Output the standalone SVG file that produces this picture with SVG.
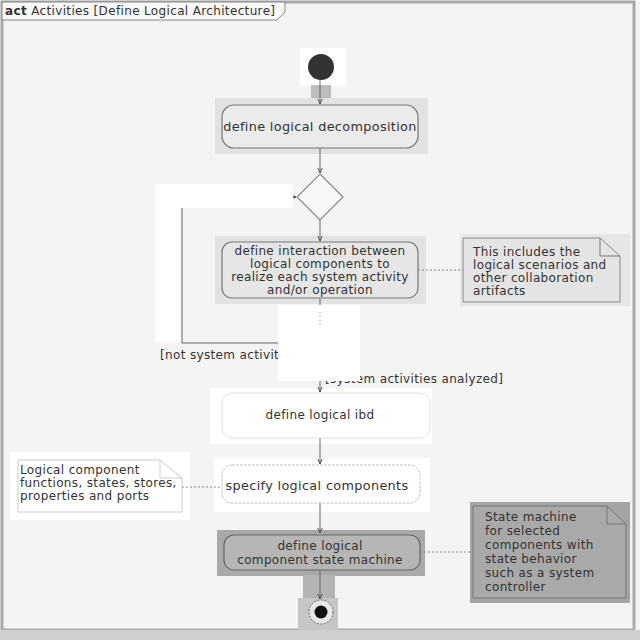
<svg xmlns="http://www.w3.org/2000/svg" width="640" height="640" viewBox="0 0 640 640">
  <style>
    text { font-family: "DejaVu Sans", "Liberation Sans", sans-serif; font-size: 12px; letter-spacing: 0.35px; fill: #333; }
    .big { font-size: 12.8px; letter-spacing: 0.35px; }
    .edge { fill: none; stroke: #666; stroke-width: 1; }
    .anchor { fill: none; stroke: #888; stroke-width: 1; stroke-dasharray: 2 2; }
    .mid { text-anchor: middle; }
  </style>
  <defs>
    <marker id="arrow" viewBox="0 0 8 8" refX="7" refY="4" markerWidth="6" markerHeight="6" orient="auto">
      <path d="M0,1 L7,4 L0,7" fill="none" stroke="#444" stroke-width="1.2"/>
    </marker>
    <clipPath id="guard-clip">
      <rect x="150" y="340" width="128" height="30"/>
    </clipPath>
  </defs>

  <!-- diagram frame -->
  <rect x="0" y="0" width="640" height="640" fill="#f4f4f4"/>
  <rect x="2" y="2" width="632" height="628" fill="none" stroke="#aaa" stroke-width="3"/>
  <rect x="0" y="630" width="640" height="10" fill="#cfcfcf"/>
  <g id="frame-label">
    <path d="M2,2 H285 V12 L277,20 H2 Z" fill="#f8f8f8" stroke="#888" stroke-width="1"/>
    <text x="5" y="15"><tspan font-weight="bold">act</tspan> Activities [Define Logical Architecture]</text>
  </g>

  <!-- highlight backdrops -->
  <rect x="300" y="48" width="46" height="38" fill="#ffffff"/>
  <rect x="311" y="85" width="20" height="20" fill="#bcbcbc"/>
  <rect x="215" y="98" width="213" height="56" fill="#e2e2e2"/>
  <rect x="215" y="236" width="211" height="68" fill="#e2e2e2"/>
  <rect x="460" y="234" width="170" height="72" fill="#e6e6e6"/>
  <rect x="210" y="388" width="222" height="56" fill="#ffffff"/>
  <rect x="214" y="458" width="216" height="54" fill="#ffffff"/>
  <rect x="10" y="452" width="180" height="68" fill="#ffffff"/>
  <rect x="217" y="530" width="208" height="46" fill="#a9a9a9"/>
  <rect x="303" y="575" width="32" height="24" fill="#b4b4b4"/>
  <rect x="298" y="598" width="40" height="32" fill="#c6c6c6"/>
  <rect x="470" y="502" width="160" height="101" fill="#a4a4a4"/>

  <!-- connectors -->
  <g id="connectors">
    <line class="edge" x1="320" y1="80" x2="320" y2="104" marker-end="url(#arrow)"/>
    <line class="edge" x1="320" y1="148" x2="320" y2="173" marker-end="url(#arrow)"/>
    <line class="edge" x1="320" y1="220" x2="320" y2="241" marker-end="url(#arrow)"/>
    <line class="edge" x1="320" y1="298" x2="320" y2="330"/>
    <path class="edge" d="M300,343 H182 V197 H296" stroke-width="1.5" marker-end="url(#arrow)"/>
    <line class="edge" x1="320" y1="355" x2="320" y2="392" marker-end="url(#arrow)"/>
    <line class="edge" x1="320" y1="438" x2="320" y2="464" marker-end="url(#arrow)"/>
    <line class="edge" x1="320" y1="503" x2="320" y2="533" marker-end="url(#arrow)"/>
    <line class="edge" x1="320" y1="570" x2="320" y2="599" marker-end="url(#arrow)"/>
    <line class="anchor" x1="418" y1="270" x2="463" y2="270"/>
    <line class="anchor" x1="182" y1="487" x2="222" y2="487"/>
    <line class="anchor" x1="420" y1="552" x2="470" y2="552"/>
    <text x="160" y="359" fill="#555" clip-path="url(#guard-clip)">[not system activities analyzed]</text>
    <text x="325" y="383" fill="#555">[system activities analyzed]</text>
  </g>

  <!-- white patches over the loop and decision -->
  <rect x="155" y="184" width="138" height="24" fill="#ffffff"/>
  <rect x="155" y="184" width="26" height="158" fill="#ffffff"/>
  <rect x="278" y="305" width="82" height="76" fill="#ffffff"/>
  <path d="M320,312 V325" stroke="#999" stroke-width="1" stroke-dasharray="1 3"/>

  <!-- nodes -->
  <g id="initial">
    <circle cx="321" cy="67" r="13" fill="#333"/>
  </g>

  <g id="define-logical-decomposition">
    <rect x="222" y="105" width="196" height="43" rx="12" fill="#ebebeb" stroke="#777" stroke-width="1.2"/>
    <text class="mid big" x="320" y="131">define logical decomposition</text>
  </g>

  <g id="merge">
    <path d="M320,174 L343,197 L320,220 L297,197 Z" fill="#f8f8f8" stroke="#888" stroke-width="1.2"/>
  </g>

  <g id="define-interaction">
    <rect x="222" y="242" width="196" height="56" rx="10" fill="#e6e6e6" stroke="#777" stroke-width="1.2"/>
    <text class="mid" x="320" y="255">define interaction between</text>
    <text class="mid" x="320" y="268">logical components to</text>
    <text class="mid" x="320" y="281">realize each system activity</text>
    <text class="mid" x="320" y="294">and/or operation</text>
  </g>

  <g id="note-scenarios">
    <path d="M463,238 H600 L620,256 V302 H463 Z" fill="#e4e4e4" stroke="#888" stroke-width="1"/>
    <path d="M600,238 V256 H620" fill="none" stroke="#777" stroke-width="1"/>
    <text x="473" y="256">This includes the</text>
    <text x="473" y="269">logical scenarios and</text>
    <text x="473" y="282">other collaboration</text>
    <text x="473" y="295">artifacts</text>
  </g>

  <g id="define-logical-ibd">
    <rect x="222" y="393" width="208" height="45" rx="10" fill="#ffffff" stroke="#e2e2e2" stroke-width="1"/>
    <text class="mid" x="320" y="419" fill="#bbb" font-size="10.5">define logical ibd</text>
  </g>

  <g id="specify-logical-components">
    <rect x="222" y="465" width="198" height="38" rx="10" fill="#ffffff" stroke="#c4c4c4" stroke-width="1" stroke-dasharray="3 1"/>
    <text class="mid big" x="317" y="490" fill="#666">specify logical components</text>
  </g>

  <g id="note-specification">
    <path d="M18,460 H160 L182,478 V512 H18 Z" fill="#ffffff" stroke="#ccc" stroke-width="1"/>
    <path d="M160,460 V478 H182" fill="none" stroke="#ccc" stroke-width="1"/>
    <text x="20" y="474" fill="#999">Logical component</text>
    <text x="20" y="487" fill="#999">functions, states, stores,</text>
    <text x="20" y="500" fill="#999">properties and ports</text>
  </g>

  <g id="define-state-machine">
    <rect x="224" y="535" width="196" height="35" rx="10" fill="#b6b6b6" stroke="#666" stroke-width="1.2"/>
    <text class="mid" x="320" y="550" fill="#222">define logical</text>
    <text class="mid" x="320" y="564" fill="#222">component state machine</text>
  </g>

  <g id="final">
    <circle cx="321" cy="612" r="12" fill="#e8e8e8" stroke="#666" stroke-width="1" stroke-dasharray="2 1.5"/>
    <circle cx="321" cy="612" r="6.5" fill="#111"/>
  </g>

  <g id="note-state-machine">
    <path d="M473,506 H607 L626,524 V598 H473 Z" fill="#a9a9a9" stroke="#777" stroke-width="1"/>
    <path d="M607,506 V524 H626" fill="none" stroke="#777" stroke-width="1"/>
    <text x="485" y="521" fill="#111">State machine</text>
    <text x="485" y="535" fill="#111">for selected</text>
    <text x="485" y="549" fill="#111">components with</text>
    <text x="485" y="563" fill="#111">state behavior</text>
    <text x="485" y="577" fill="#111">such as a system</text>
    <text x="485" y="591" fill="#111">controller</text>
  </g>
</svg>
